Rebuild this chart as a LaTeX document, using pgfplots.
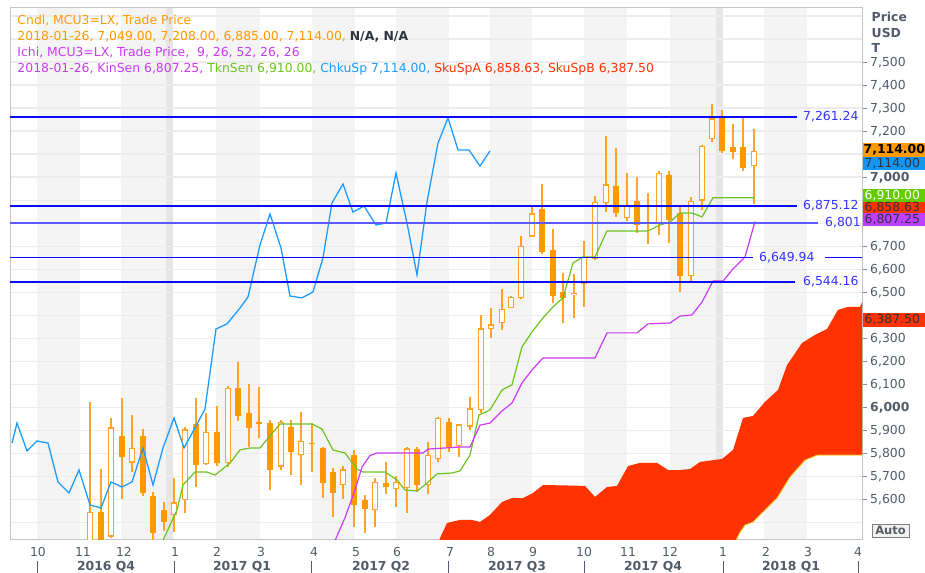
\documentclass[border=0pt]{standalone}
\usepackage{pgfplots}
\pgfplotsset{compat=1.18}
\usepackage{pgfplotstable}
\usepackage{fontspec}
\setmainfont{DejaVu Sans}
\definecolor{candle}{HTML}{FF9900}
\definecolor{wick}{HTML}{FFA226}
\definecolor{hdrorange}{HTML}{FF9900}
\definecolor{ichi}{HTML}{CC3AF5}
\definecolor{tkn}{HTML}{6CC41E}
\definecolor{chku}{HTML}{1E9BFF}
\definecolor{sku}{HTML}{FF3300}
\definecolor{hline}{RGB}{10,10,255}
\definecolor{hline2}{RGB}{90,90,255}
\definecolor{hlab}{HTML}{3333FF}
\definecolor{band}{HTML}{F4F4F4}
\definecolor{yearband}{HTML}{E6E6E6}
\definecolor{gridc}{HTML}{ECECEC}
\definecolor{frame}{HTML}{C4C4C4}
\definecolor{lab}{HTML}{515B6B}
\definecolor{dark}{HTML}{2E3340}
\definecolor{boxblue}{HTML}{1496F5}
\definecolor{boxgreen}{HTML}{66CC00}
\definecolor{boxpurple}{HTML}{BF3FFF}
\newcommand\fs{\fontsize{12.4bp}{15bp}\selectfont}

% candles: x (pixel slot), open, high, low, close
\pgfplotstableread{
x O H L C
90 5400 6021 5370 5546
111 5437 5954 5430 5912
132 5759 5966 5720 5824
174 5531 5691 5459 5586
185 5597 5912 5539 5904
206 5753 5973 5749 5894
228 5756 6090 5741 6085
281 5742 5944 5727 5937
301 5792 5981 5662 5855
343 5662 5744 5600 5730
375 5553 5691 5478 5676
396 5643 5701 5568 5676
407 5647 5826 5542 5821
428 5662 5850 5621 5792
438 5773 5959 5763 5954
459 5831 5926 5785 5926
470 5915 6046 5901 5995
481 5988 6401 5973 6343
491 6338 6430 6299 6360
502 6364 6512 6336 6427
511 6430 6485 6430 6480
521 6473 6746 6469 6702
532 6741 6872 6741 6843
574 6488 6578 6389 6498
584 6535 6722 6437 6654
595 6644 6918 6640 6893
606 6886 7180 6850 6969
627 6821 7019 6809 6877
659 6799 7027 6748 7019
691 6570 6912 6546 6898
702 6898 7140 6857 7137
712 7166 7316 7151 7255
754 7049 7208 6885 7114
}\upc
\pgfplotstableread{
x O H L C
101 5546 5730 5380 5390
122 5875 6041 5600 5782
143 5875 5904 5614 5626
153 5614 5633 5400 5455
164 5553 5589 5463 5503
196 5926 6039 5655 5749
217 5894 6005 5744 5756
238 6085 6196 5940 5962
249 5976 6101 5828 5908
259 5934 6086 5865 5927
270 5930 5944 5640 5727
291 5915 5944 5705 5807
312 5846 5930 5720 5840
323 5821 5829 5604 5672
333 5720 5734 5524 5626
354 5792 5814 5481 5575
365 5597 5618 5452 5556
386 5672 5763 5623 5652
417 5817 5826 5633 5662
449 5937 5952 5806 5828
542 6860 6969 6666 6673
553 6683 6773 6451 6485
563 6502 6585 6364 6473
616 6963 7125 6825 6843
637 6898 6999 6756 6792
648 6806 6932 6709 6796
669 7009 7027 6715 6814
680 6843 6869 6499 6570
722 7255 7292 7106 7113
733 7132 7231 7079 7111
743 7132 7263 7027 7041
}\dnc

\begin{document}
\begin{tikzpicture}
\begin{axis}[
  set layers,
  at={(10bp,33bp)}, anchor=south west,
  width=852bp, height=532bp, scale only axis,
  xmin=10, xmax=862, ymin=5422.8, ymax=7734.9,
  axis line style={draw=frame, line width=1bp},
  xtick={38,83,124,175,217,261,314,356,397,450,491,533,584,628,670,723,766,808,858},
  xticklabels={10,11,12,1,2,3,4,5,6,7,8,9,10,11,12,1,2,3,4},
  xtick pos=bottom, xticklabel pos=lower,
  ytick={5600,5700,...,7500},
  yticklabels={{5,600},{5,700},{5,800},{5,900},{\bfseries 6,000},{6,100},{6,200},{6,300},{},{6,500},{6,600},{6,700},{},{},{\bfseries 7,000},{},{7,200},{7,300},{7,400},{7,500}},
  ytick pos=right, yticklabel pos=right,
  extra y ticks={5500,7600,7700}, extra y tick labels={},
  extra y tick style={major tick length=0pt},
  ymajorgrids, major grid style={draw=gridc, line width=1.2bp},
  tick align=outside,
  x tick style={draw=none},
  y tick style={draw=lab!70, line width=0.8bp},
  major tick length=5bp,
  ticklabel style={font=\fs, text=lab},
  yticklabel style={anchor=west, inner sep=0pt, xshift=3bp, yshift=-0.8bp},
  xticklabel style={yshift=1bp},
  error bars/error mark=none,
]
\begin{pgfonlayer}{axis background}
\fill[band] (axis cs:37,5422.8) rectangle (axis cs:80,7734.9);
\fill[band] (axis cs:121,5422.8) rectangle (axis cs:166,7734.9);
\fill[yearband] (axis cs:166,5422.8) rectangle (axis cs:173,7734.9);
\fill[band] (axis cs:216,5422.8) rectangle (axis cs:260,7734.9);
\fill[band] (axis cs:312,5422.8) rectangle (axis cs:355,7734.9);
\fill[band] (axis cs:396,5422.8) rectangle (axis cs:449,7734.9);
\fill[band] (axis cs:490,5422.8) rectangle (axis cs:532,7734.9);
\fill[band] (axis cs:584,5422.8) rectangle (axis cs:627,7734.9);
\fill[band] (axis cs:670,5422.8) rectangle (axis cs:716,7734.9);
\fill[yearband] (axis cs:716,5422.8) rectangle (axis cs:723,7734.9);
\fill[band] (axis cs:764,5422.8) rectangle (axis cs:807,7734.9);
\end{pgfonlayer}

% Kumo (cloud)
\addplot[fill=sku, draw=none, forget plot] coordinates {
(437,5380) (440,5431) (447,5497) (460,5510) (472,5510) (480,5501) (490,5532)
(502,5588) (512,5605) (523,5605) (533,5627) (543,5662) (585,5658) (595,5610)
(607,5653) (617,5658) (628,5744) (640,5758) (657,5758) (668,5727) (680,5727)
(690,5731) (700,5762) (722,5775) (733,5814) (743,5953) (753,5962) (765,6023)
(778,6075) (787,6183) (802,6279) (815,6314) (827,6340) (838,6423) (848,6436)
(860,6436) (863,6466)
(863,5792) (817,5792) (805,5770) (790,5697) (777,5605) (763,5545) (753,5501)
(745,5488) (740,5457) (737,5431) (734,5380)
} -- cycle;
\addplot[draw={rgb,255:red,230;green,200;blue,0}, line width=0.8bp, forget plot] coordinates {
(734,5380) (737,5431) (740,5457) (745,5488) (753,5501) (763,5545) (777,5605)
(790,5697) (805,5770) (817,5792) (863,5792)};

% Candles: wicks
\addplot[forget plot, draw=none, mark=none,
  error bars/.cd, y dir=plus, y explicit,
  error bar style={draw=wick, line width=1.3bp}]
  table[x=x, y=L, y error plus expr=\thisrow{H}-\thisrow{L}] {\upc};
\addplot[forget plot, draw=none, mark=none,
  error bars/.cd, y dir=plus, y explicit,
  error bar style={draw=wick, line width=1.3bp}]
  table[x=x, y=L, y error plus expr=\thisrow{H}-\thisrow{L}] {\dnc};
% filled bodies (down weeks)
\addplot[forget plot, draw=none, mark=none,
  error bars/.cd, y dir=plus, y explicit,
  error bar style={draw=candle, line width=6.7bp}]
  table[x=x, y=C, y error plus expr=\thisrow{O}-\thisrow{C}] {\dnc};
% hollow bodies (up weeks)
\addplot[forget plot, draw=none, mark=none,
  error bars/.cd, y dir=plus, y explicit,
  error bar style={draw=wick, line width=6.7bp}]
  table[x=x, y=O, y error plus expr=\thisrow{C}-\thisrow{O}] {\upc};
\addplot[forget plot, draw=none, mark=none,
  error bars/.cd, y dir=plus, y explicit,
  error bar style={draw=white, line width=4.1bp}]
  table[x=x, y expr=\thisrow{O}+5.6, y error plus expr=\thisrow{C}-\thisrow{O}-11.2] {\upc};

% Tenkan-sen
\addplot[tkn, line width=1.2bp, forget plot] coordinates {
(160,5380) (164,5431) (177,5553) (183,5662) (195,5718) (207,5718) (215,5705)
(230,5757) (240,5814) (250,5823) (260,5823) (280,5927) (312,5927) (322,5905)
(333,5814) (345,5801) (357,5731) (363,5718) (385,5718) (397,5684) (405,5640)
(417,5636) (425,5662) (437,5710) (452,5714) (460,5723) (470,5792) (479,5966)
(490,5988) (502,6075) (512,6097) (522,6262) (532,6327) (543,6388) (553,6436)
(563,6475) (573,6627) (583,6653) (595,6653) (607,6766) (648,6766) (660,6792)
(670,6805) (680,6844) (692,6844) (702,6827) (713,6910) (755,6910)};
% Kijun-sen
\addplot[ichi, line width=1.2bp, forget plot] coordinates {
(333,5400) (345,5520) (355,5640) (362,5740) (370,5790) (377,5801) (423,5801)
(428,5818) (460,5827) (470,5827) (480,5922) (490,5931) (502,5984) (512,6018)
(522,6105) (532,6162) (543,6214) (595,6214) (607,6323) (637,6323) (648,6362)
(670,6366) (680,6396) (692,6401) (702,6457) (713,6548) (723,6548) (733,6601)
(745,6653) (755,6807)};
% Chikou span
\addplot[chku, line width=1.3bp, forget plot] coordinates {
(12,5844) (17,5931) (27,5810) (37,5853) (48,5844) (58,5675) (69,5627) (79,5727)
(90,5575) (101,5562) (111,5675) (122,5653) (132,5675) (143,5823) (153,5662)
(163,5823) (174,5953) (184,5823) (195,5910) (205,5992) (216,6340) (227,6362)
(240,6431) (248,6479) (260,6705) (270,6840) (281,6692) (290,6483) (302,6475)
(313,6501) (323,6649) (332,6888) (343,6970) (353,6848) (364,6874) (376,6792)
(386,6800) (396,7018) (407,6800) (417,6575) (427,6892) (438,7148) (448,7257)
(458,7118) (469,7118) (480,7048) (490,7114)};

% Horizontal levels
\addplot[draw=hline, line width=1.5bp, forget plot] coordinates {(10,7261.24) (797,7261.24)};
\addplot[draw=hline, line width=1.5bp, forget plot] coordinates {(10,6875.12) (797,6875.12)};
\addplot[draw=hline2, line width=1.8bp, forget plot] coordinates {(10,6801) (818,6801)};
\addplot[draw=hline, line width=1.7bp, forget plot] coordinates {(10,6649.94) (753,6649.94)};
\addplot[draw=hline, line width=1.7bp, forget plot] coordinates {(825,6649.94) (862,6649.94)};
\addplot[draw=hline, line width=1.5bp, forget plot] coordinates {(10,6544.16) (795,6544.16)};
\node[anchor=west, inner sep=0pt, text=hlab, font=\fs] at (axis cs:803,7261.24) {7,261.24};
\node[anchor=west, inner sep=0pt, text=hlab, font=\fs] at (axis cs:803,6875.12) {6,875.12};
\node[anchor=west, inner sep=0pt, text=hlab, font=\fs] at (axis cs:825,6801) {6,801};
\node[anchor=west, inner sep=0pt, text=hlab, font=\fs] at (axis cs:759,6649.94) {6,649.94};
\node[anchor=west, inner sep=0pt, text=hlab, font=\fs] at (axis cs:803,6544.16) {6,544.16};
\end{axis}

\begin{scope}[x=1bp, y=-1bp, yshift=573bp]
% header
\node[anchor=base west, inner sep=0pt, font=\fs, text=hdrorange] at (17.3,25) {Cndl, MCU3=LX, Trade Price};
\node[anchor=base west, inner sep=0pt, font=\fs, text=hdrorange] at (17.3,40.8) {2018-01-26, 7,049.00, 7,208.00, 6,885.00, 7,114.00, \textcolor{dark}{\bfseries N/A, N/A}};
\node[anchor=base west, inner sep=0pt, font=\fs, text=ichi] at (17.3,56.6) {Ichi, MCU3=LX, Trade Price,\ \ 9, 26, 52, 26, 26};
\node[anchor=base west, inner sep=0pt, font=\fs, text=ichi] at (17.3,72.4) {2018-01-26, KinSen 6,807.25, \textcolor{tkn}{TknSen 6,910.00,} \textcolor{chku}{ChkuSp 7,114.00,} \textcolor{sku}{SkuSpA 6,858.63, SkuSpB 6,387.50}};
% right header
\node[anchor=base west, inner sep=0pt, font=\fs\bfseries, text=lab] at (871.5,21.5) {Price};
\node[anchor=base west, inner sep=0pt, font=\fs\bfseries, text=lab] at (871.5,37.3) {USD};
\node[anchor=base west, inner sep=0pt, font=\fs\bfseries, text=lab] at (871.5,53) {T};
% value boxes
\fill[candle] (863,143.3) rectangle (925,156.6);
\node[anchor=west, inner sep=0pt, font=\fs\bfseries, text=black] at (863.5,150) {7,114.00};
\fill[boxblue] (863,156.6) rectangle (925,170.5);
\node[anchor=west, inner sep=0pt, font=\fs, text=dark] at (864.5,163.5) {7,114.00};
\fill[boxgreen] (863,189.3) rectangle (925,201.7);
\node[anchor=west, inner sep=0pt, font=\fs, text=white] at (864.5,195.5) {6,910.00};
\fill[sku] (863,201.7) rectangle (925,213.5);
\node[anchor=west, inner sep=0pt, font=\fs, text=dark] at (864.5,207.6) {6,858.63};
\fill[boxpurple] (863,213.5) rectangle (925,226);
\node[anchor=west, inner sep=0pt, font=\fs, text=dark] at (864.5,219.8) {6,807.25};
\fill[sku] (863,313.3) rectangle (925,326.7);
\node[anchor=west, inner sep=0pt, font=\fs, text=dark] at (864.5,320) {6,387.50};
% Auto
\draw[draw=gray, fill=gray!10, line width=0.8bp] (872,524) rectangle (909,537.5);
\node[inner sep=0pt, font=\fontsize{11.5bp}{13bp}\selectfont\bfseries, text=dark!80] at (890.5,530.8) {Auto};
% quarters
\foreach \qx in {37,174,311,448,584,723,858} {\draw[lab, line width=0.9bp] (\qx,561) -- (\qx,573);}
\node[inner sep=0pt, font=\fs\bfseries, text=lab, anchor=base] at (106,571) {2016 Q4};
\node[inner sep=0pt, font=\fs\bfseries, text=lab, anchor=base] at (242,571) {2017 Q1};
\node[inner sep=0pt, font=\fs\bfseries, text=lab, anchor=base] at (381,571) {2017 Q2};
\node[inner sep=0pt, font=\fs\bfseries, text=lab, anchor=base] at (517,571) {2017 Q3};
\node[inner sep=0pt, font=\fs\bfseries, text=lab, anchor=base] at (653,571) {2017 Q4};
\node[inner sep=0pt, font=\fs\bfseries, text=lab, anchor=base] at (791,571) {2018 Q1};
\end{scope}
\pgfresetboundingbox
\useasboundingbox (0,0) rectangle (925bp,573bp);
\end{tikzpicture}
\end{document}
